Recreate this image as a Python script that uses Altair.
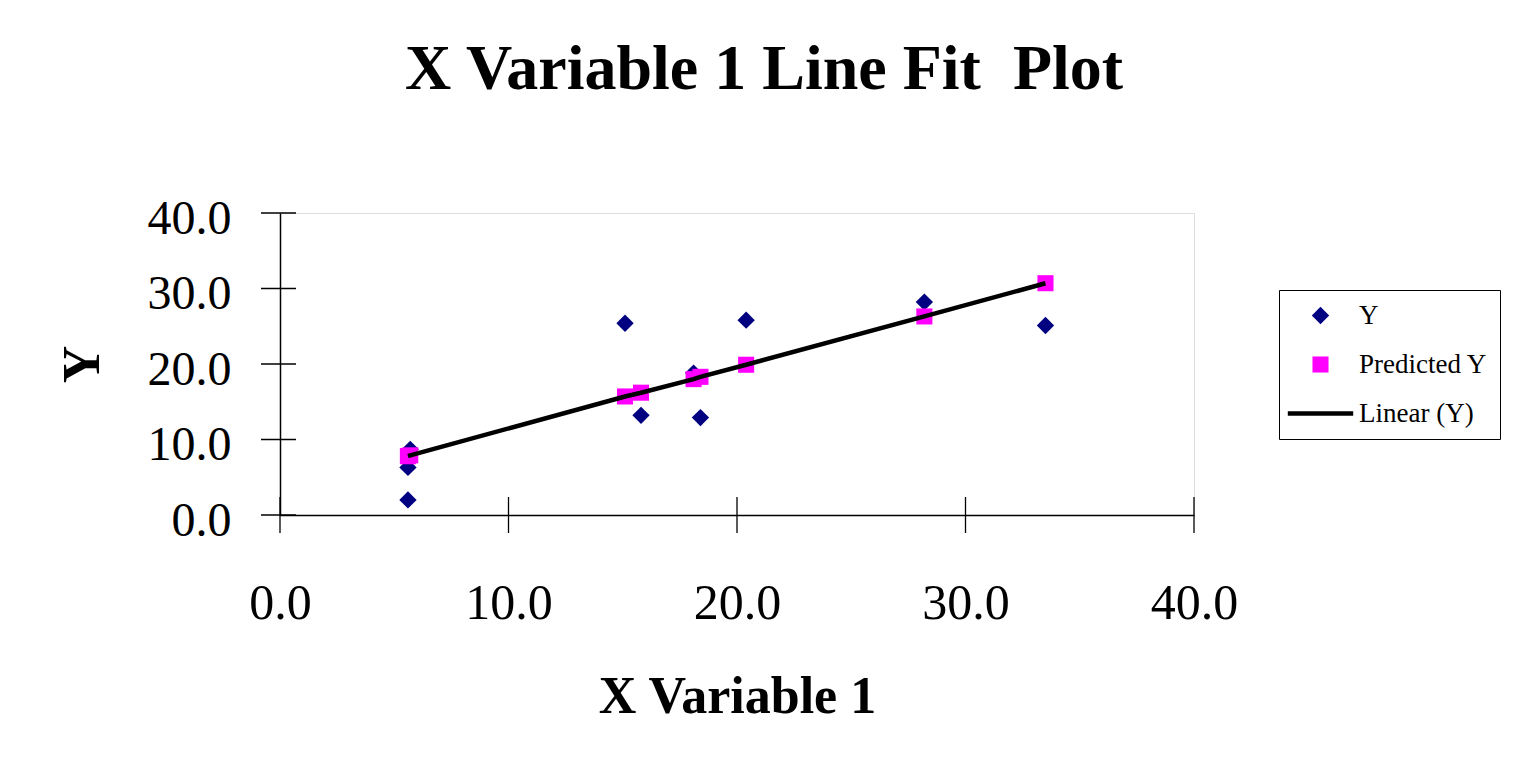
import altair as alt
import pandas as pd

# ---- data ----
x_vals = [5.6, 5.6, 5.7, 15.1, 15.8, 18.1, 18.4, 20.4, 28.2, 33.5]
y_vals = [2.0, 6.3, 8.7, 25.4, 13.2, 18.8, 12.9, 25.8, 28.2, 25.1]
pred_vals = [7.8, 7.8, 7.9, 15.7, 16.2, 18.0, 18.3, 19.9, 26.3, 30.7]
series_names = ["Y", "Predicted Y", "Linear (Y)"]
x_ticks = [0, 10, 20, 30, 40]
y_ticks = [0, 10, 20, 30, 40]

FONT = "Liberation Serif"
W, H = 914, 302

pts = pd.DataFrame(
    {"x": x_vals + x_vals,
     "v": y_vals + pred_vals,
     "series": ["Y"] * len(x_vals) + ["Predicted Y"] * len(x_vals)}
)
line_df = pd.DataFrame({"x": x_vals, "v": pred_vals}).sort_values("x")
xt = pd.DataFrame({"t": x_ticks})
yt = pd.DataFrame({"t": y_ticks})

xscale = alt.Scale(domain=[0, 40], nice=False, zero=False)
yscale = alt.Scale(domain=[0, 40], nice=False, zero=False)

line_shape = "M-4.45,-0.3L4.45,-0.3L4.45,0.3L-4.45,0.3Z"

xaxis = alt.Axis(
    title="X Variable 1", values=x_ticks, format=".1f", grid=False,
    ticks=False, tickSize=0, domain=True, domainColor="black", domainWidth=1.5,
    labelFont=FONT, labelFontSize=50, labelColor="black", labelPadding=63,
    labelFlush=False,
    titleFont=FONT, titleFontSize=52, titleFontWeight="bold", titleColor="black",
    titleBaseline="alphabetic", titleY=197,
)
yaxis = alt.Axis(
    title="Y", values=y_ticks, format=".1f", grid=False,
    ticks=False, tickSize=0, domain=True, domainColor="black", domainWidth=1.5,
    labelFont=FONT, labelFontSize=48, labelColor="black", labelPadding=49,
    labelFlush=False, labelOffset=6,
    titleFont=FONT, titleFontSize=52, titleFontWeight="bold", titleColor="black",
    titleBaseline="alphabetic", titleX=-182, titleY=151, titleAngle=-90,
)

legend = alt.Legend(
    title=None, orient="none", legendX=999, legendY=77,
    labelFont=FONT, labelFontSize=27, labelColor="black",
    strokeColor="black", fillColor="white", padding=12,
    rowPadding=21, symbolOffset=16, labelOffset=25, symbolStrokeWidth=0,
)

points = alt.Chart(pts).mark_point(filled=True, opacity=1).encode(
    x=alt.X("x:Q", scale=xscale, axis=xaxis),
    y=alt.Y("v:Q", scale=yscale, axis=yaxis),
    color=alt.Color("series:N", scale=alt.Scale(domain=series_names,
                    range=["#000080", "#FF00FF", "#000000"]), legend=legend),
    shape=alt.Shape("series:N", scale=alt.Scale(domain=series_names,
                    range=["diamond", "square", line_shape]), legend=legend),
    size=alt.Size("series:N", scale=alt.Scale(domain=series_names,
                  range=[300, 216, 300]), legend=legend),
)

trend = alt.Chart(line_df).mark_line(color="black", strokeWidth=4.5).encode(
    x=alt.X("x:Q", scale=xscale),
    y=alt.Y("v:Q", scale=yscale),
)

xtick_rules = alt.Chart(xt).mark_rule(color="black", strokeWidth=1.3).encode(
    x=alt.X("t:Q", scale=xscale),
    y=alt.value(H - 18), y2=alt.value(H + 18),
)
ytick_rules = alt.Chart(yt).mark_rule(color="black", strokeWidth=1.3).encode(
    y=alt.Y("t:Q", scale=yscale),
    x=alt.value(-19), x2=alt.value(16),
)

chart = alt.layer(points, trend, xtick_rules, ytick_rules).properties(
    width=W, height=H,
    title=alt.Title("X Variable 1 Line Fit\u00a0 Plot", font=FONT, fontSize=64,
                    fontWeight="bold", color="black", anchor="middle",
                    baseline="alphabetic", offset=42, dx=27),
    autosize=alt.AutoSizeParams(type="none"),
    padding={"left": 272, "top": 205, "right": 311, "bottom": 240},
).configure_view(stroke="#7a7a7a", strokeWidth=2.5).configure(background="white")

chart.save("out.html", embed_options={"renderer": "svg", "actions": False})
